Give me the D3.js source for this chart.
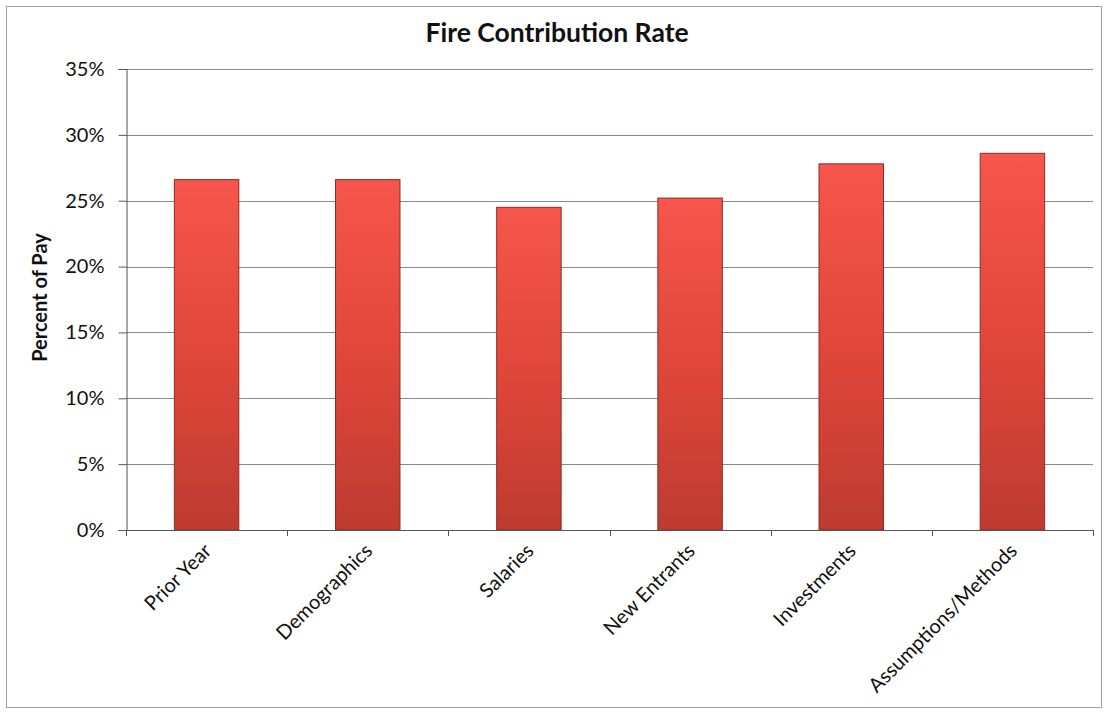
<!DOCTYPE html>
<html>
<head>
<meta charset="utf-8">
<script src="https://cdn.jsdelivr.net/npm/d3@7"></script>
<style>
  html, body { margin: 0; padding: 0; background: #fff; }
  svg { display: block; }
</style>
</head>
<body>
<svg id="chart" width="1108" height="714"></svg>
<script>
const categories = ["Prior Year", "Demographics", "Salaries", "New Entrants", "Investments", "Assumptions/Methods"];
const values = [0.266, 0.266, 0.245, 0.252, 0.278, 0.286];
const yTicks = [0, 0.05, 0.10, 0.15, 0.20, 0.25, 0.30, 0.35];
const title = "Fire Contribution Rate";
const yTitle = "Percent of Pay";

const W = 1108, H = 714;
const margin = { left: 126, right: 15, top: 69, bottom: 184 };
const svg = d3.select("#chart");
const font = "Lato, 'Open Sans', sans-serif";

// outer frame
svg.append("rect").attr("x", 6.5).attr("y", 6.5).attr("width", W - 13).attr("height", H - 13)
  .attr("fill", "#fff").attr("stroke", "#a0a0a0").attr("stroke-width", 1);

const x = d3.scaleBand().domain(categories).range([margin.left, W - margin.right]).paddingInner(0.6).paddingOuter(0.3);
const y = d3.scaleLinear().domain([0, 0.35]).range([H - margin.bottom, margin.top]);

const defs = svg.append("defs");
const grad = defs.append("linearGradient").attr("id", "barGrad").attr("x1", 0).attr("y1", 0).attr("x2", 0).attr("y2", 1);
grad.append("stop").attr("offset", "0%").attr("stop-color", "#f6564c");
grad.append("stop").attr("offset", "55%").attr("stop-color", "#de4539");
grad.append("stop").attr("offset", "100%").attr("stop-color", "#bd3b30");

// gridlines
svg.append("g").selectAll("line").data(yTicks.filter(d => d > 0)).join("line")
  .attr("x1", margin.left).attr("x2", W - margin.right)
  .attr("y1", d => Math.round(y(d)) + 0.5).attr("y2", d => Math.round(y(d)) + 0.5)
  .attr("stroke", "#8a8a8a").attr("stroke-width", 1);

// bars
svg.append("g").selectAll("rect").data(categories).join("rect")
  .attr("x", d => x(d))
  .attr("y", (d, i) => y(values[i]))
  .attr("width", x.bandwidth())
  .attr("height", (d, i) => y(0) - y(values[i]))
  .attr("fill", "url(#barGrad)")
  .attr("stroke", "#8e2c22").attr("stroke-width", 1);

// y axis
const yAxis = d3.axisLeft(y).tickValues(yTicks).tickFormat(d3.format(".0%")).tickSize(8).tickPadding(14);
const gy = svg.append("g").attr("transform", `translate(${margin.left + 0.5},0)`).call(yAxis);
gy.select(".domain").attr("stroke", "#555");
gy.selectAll(".tick line").attr("stroke", "#555");
gy.selectAll("text").attr("font-family", font).attr("font-size", 20).attr("fill", "#111");

// x axis
const boundaries = d3.range(categories.length + 1).map(i => margin.left + i * (W - margin.right - margin.left) / categories.length);
const gx = svg.append("g");
gx.append("line").attr("x1", margin.left).attr("x2", W - margin.right)
  .attr("y1", y(0) + 0.5).attr("y2", y(0) + 0.5).attr("stroke", "#555");
gx.selectAll("line.tk").data(boundaries).join("line").attr("class", "tk")
  .attr("x1", d => Math.round(d) + 0.5).attr("x2", d => Math.round(d) + 0.5)
  .attr("y1", y(0)).attr("y2", y(0) + 6).attr("stroke", "#555");
gx.selectAll("text").data(categories).join("text")
  .attr("transform", d => `translate(${x(d) + x.bandwidth() / 2 + 6},${y(0) + 22}) rotate(-45)`)
  .attr("text-anchor", "end")
  .attr("font-family", font).attr("font-size", 20).attr("fill", "#111")
  .text(d => d);

// title
svg.append("text").attr("x", 557).attr("y", 42).attr("text-anchor", "middle")
  .attr("font-family", font).attr("font-weight", "bold").attr("font-size", 26.5).attr("fill", "#111")
  .text(title);

// y title
svg.append("text").attr("transform", `translate(47,${(y(0) + y(0.35)) / 2 - 2}) rotate(-90)`)
  .attr("text-anchor", "middle")
  .attr("font-family", font).attr("font-weight", "bold").attr("font-size", 20).attr("fill", "#111")
  .text(yTitle);
</script>
</body>
</html>
